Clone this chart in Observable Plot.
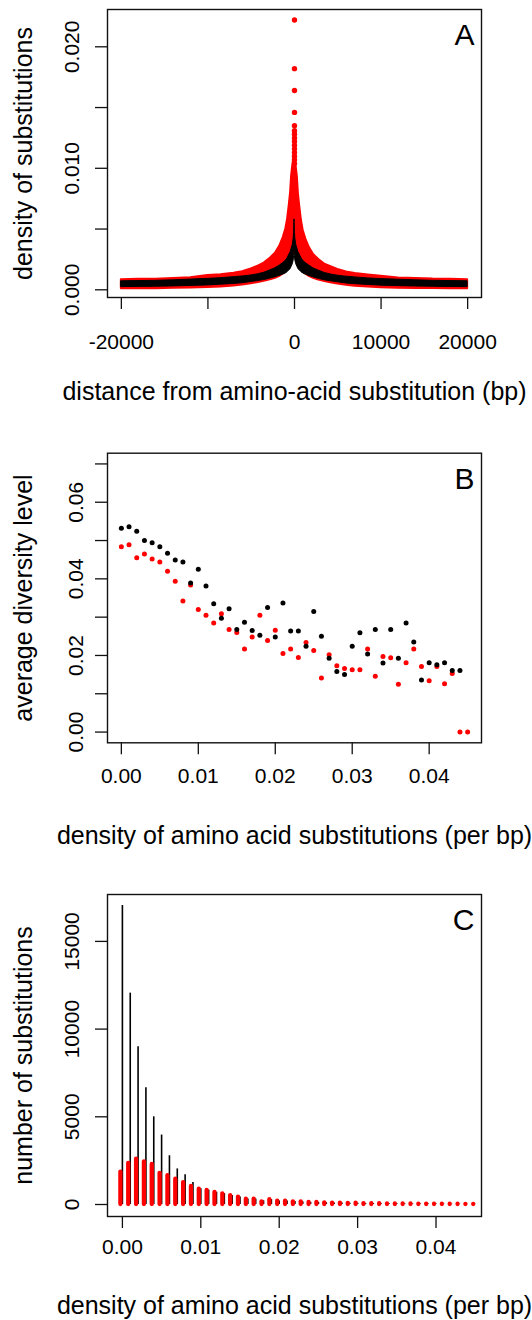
<!DOCTYPE html>
<html>
<head>
<meta charset="utf-8">
<script src="https://cdn.jsdelivr.net/npm/d3@7"></script>
<script src="https://cdn.jsdelivr.net/npm/@observablehq/plot@0.6"></script>
<style>
  html, body { margin: 0; padding: 0; background: #fff; }
  #chart { width: 532px; }
  #chart svg { display: block; }
</style>
</head>
<body>
<div id="chart"></div>
<script>
// ---------- Panel A: density of substitutions vs distance (bp) ----------
const distA = [-20000, -18000, -16000, -14000, -12000, -10000, -8500, -7000, -6000, -5000, -4200, -3500, -2800, -2200, -1700, -1300, -1000, -800, -600, -450, -330, -200, -100, -40, 0,
  40, 100, 200, 330, 450, 600, 800, 1000, 1300, 1700, 2200, 2800, 3500, 4200, 5000, 6000, 7000, 8500, 10000, 12000, 14000, 16000, 18000, 20000];
const redHiA = [0.00082, 0.00086, 0.00087, 0.00093, 0.00100, 0.00118, 0.00124, 0.00136, 0.00148, 0.00172, 0.00195, 0.0022, 0.0026, 0.0030, 0.0036, 0.0043, 0.0050, 0.0058, 0.0070, 0.0080, 0.0094, 0.0102, 0.0107, 0.0112, 0.0116,
  0.0112, 0.0106, 0.0101, 0.0093, 0.0079, 0.0069, 0.0057, 0.0049, 0.0042, 0.0035, 0.0029, 0.0025, 0.0021, 0.00190, 0.00168, 0.00146, 0.00134, 0.00122, 0.00112, 0.00098, 0.00094, 0.00088, 0.00086, 0.00083];
const redLoA = [0.00008, 0.00010, 0.00008, 0.00012, 0.00014, 0.00018, 0.00024, 0.00032, 0.00040, 0.00050, 0.00060, 0.00070, 0.00082, 0.00095, 0.0011, 0.0013, 0.0015, 0.0017, 0.0019, 0.0022, 0.0025, 0.0028, 0.0032, 0.0036, 0.0040,
  0.0036, 0.0032, 0.0028, 0.0025, 0.0022, 0.0019, 0.0017, 0.0015, 0.0013, 0.0011, 0.00094, 0.00080, 0.00068, 0.00058, 0.00048, 0.00038, 0.00030, 0.00022, 0.00016, 0.00013, 0.00011, 0.00010, 0.00009, 0.00008];
const blackHiA = [0.00070, 0.00072, 0.00074, 0.00078, 0.00084, 0.00090, 0.00096, 0.00104, 0.00110, 0.00118, 0.00128, 0.00140, 0.00160, 0.00178, 0.0020, 0.0022, 0.0024, 0.0026, 0.0029, 0.0031, 0.0034, 0.0037, 0.0042, 0.0047, 0.0058,
  0.0047, 0.0042, 0.0037, 0.0034, 0.0031, 0.0029, 0.0026, 0.0024, 0.0022, 0.0020, 0.00176, 0.00158, 0.00138, 0.00126, 0.00116, 0.00108, 0.00102, 0.00094, 0.00088, 0.00083, 0.00078, 0.00074, 0.00072, 0.00070];
const blackLoA = [0.00022, 0.00024, 0.00025, 0.00028, 0.00032, 0.00036, 0.00042, 0.00048, 0.00054, 0.00064, 0.00072, 0.00080, 0.00092, 0.00104, 0.00115, 0.00125, 0.00135, 0.00145, 0.0016, 0.0017, 0.0019, 0.0021, 0.0024, 0.0028, 0.0034,
  0.0028, 0.0024, 0.0021, 0.0019, 0.0017, 0.0016, 0.00145, 0.00135, 0.00125, 0.00114, 0.00102, 0.00090, 0.00078, 0.00070, 0.00062, 0.00052, 0.00046, 0.00040, 0.00034, 0.00030, 0.00027, 0.00025, 0.00023, 0.00022];
// isolated red points at the centre of the peak
const peakRedA = [0.0222, 0.0182, 0.0164, 0.0146, 0.0135, 0.0131, 0.0128, 0.0125, 0.0122, 0.0119, 0.0116, 0.0113, 0.0110, 0.0107, 0.0104];
const xTicksA = [-20000, -10000, 0, 10000, 20000];
const xLabelsA = [-20000, 0, 10000, 20000];
const yTicksA = [0, 0.005, 0.010, 0.015, 0.020];
const yLabelsA = [0, 0.010, 0.020];

// ---------- Panel B: average diversity level vs density ----------
const densB = [0.000, 0.001, 0.002, 0.003, 0.004, 0.005, 0.006, 0.007, 0.008, 0.009, 0.010, 0.011, 0.012, 0.013, 0.014, 0.015, 0.016, 0.017, 0.018, 0.019, 0.020, 0.021, 0.022, 0.023,
  0.024, 0.025, 0.026, 0.027, 0.028, 0.029, 0.030, 0.031, 0.032, 0.033, 0.034, 0.035, 0.036, 0.037, 0.038, 0.039, 0.040, 0.041, 0.042, 0.043, 0.044, 0.045];
const blackB = [0.0532, 0.0536, 0.0524, 0.0500, 0.0494, 0.0484, 0.0467, 0.0449, 0.0444, 0.0389, 0.0425, 0.0381, 0.0335, 0.0297, 0.0322, 0.0268, 0.0287, 0.0265, 0.0253, 0.0325, 0.0248, 0.0337, 0.0264,
  0.0264, 0.0224, 0.0315, 0.0250, 0.0193, 0.0158, 0.0150, 0.0224, 0.0259, 0.0204, 0.0268, 0.0180, 0.0268, 0.0193, 0.0285, 0.0235, 0.0136, 0.0181, 0.0176, 0.0181, 0.0161, 0.0161];
const redB = [0.0484, 0.0489, 0.0455, 0.0465, 0.0452, 0.0444, 0.0420, 0.0394, 0.0342, 0.0384, 0.0320, 0.0305, 0.0285, 0.0309, 0.0268, 0.0260, 0.0217, 0.0248, 0.0305, 0.0239, 0.0266, 0.0205, 0.0217,
  0.0195, 0.0234, 0.0213, 0.0141, 0.0202, 0.0173, 0.0166, 0.0163, 0.0163, 0.0217, 0.0146, 0.0197, 0.0194, 0.0125, 0.0181, 0.0217, 0.0171, 0.0134, 0.0171, 0.0126, 0.0153, 0.0000, 0.0000];
const xTicksB = [0, 0.01, 0.02, 0.03, 0.04];
const yTicksB = [0, 0.01, 0.02, 0.03, 0.04, 0.05, 0.06, 0.07];
const yLabelsB = [0, 0.02, 0.04, 0.06];

// ---------- Panel C: number of substitutions vs density ----------
const densC = densB;
const blackC = [17050, 12050, 9000, 6650, 5000, 3960, 2780, 2030, 1700, 1250, 900, 820, 700, 620, 510, 430, 320, 310, 210, 280, 200, 200, 170,
  150, 125, 120, 100, 85, 80, 70, 72, 58, 52, 48, 38, 36, 32, 30, 26, 25, 22, 20, 16, 15, 12, 10];
const redC = [1850, 2350, 2580, 2430, 2280, 1780, 1640, 1440, 1250, 1030, 870, 800, 685, 610, 500, 415, 300, 300, 155, 270, 190, 190, 155,
  150, 120, 115, 95, 80, 75, 65, 70, 55, 50, 45, 35, 35, 30, 30, 25, 25, 20, 20, 15, 15, 12, 10];
const xTicksC = [0, 0.01, 0.02, 0.03, 0.04];
const yTicksC = [0, 5000, 10000, 15000];

// ---------- shared styling ----------
const FONT = "'Liberation Sans', Arial, Helvetica, sans-serif";
const TICK_FS = 21, TITLE_FS = 25, LETTER_FS = 30;
const style = {fontFamily: FONT, color: "#000", background: "#fff", overflow: "visible"};

function frameAndAxes({xTicks, yTicks, xLabels, yLabels, xFmt, yFmt, xLabDy, yLabDx, xTitle, yTitle, xTitleDy, letter}) {
  return [
    Plot.axisX({ticks: xTicks, tickSize: 12, tickFormat: () => "", label: null, strokeWidth: 1.3, stroke: "#111"}),
    Plot.axisY({ticks: yTicks, tickSize: 12, tickFormat: () => "", label: null, strokeWidth: 1.3, stroke: "#111"}),
    Plot.text(xLabels, {x: d => d, frameAnchor: "bottom", dy: xLabDy, text: xFmt, fontSize: TICK_FS, lineAnchor: "middle", fill: "#000"}),
    Plot.text(yLabels, {y: d => d, frameAnchor: "left", dx: yLabDx, text: yFmt, fontSize: TICK_FS, rotate: -90, lineAnchor: "middle", textAnchor: "middle", fill: "#000"}),
    Plot.text([xTitle], {frameAnchor: "bottom", dy: xTitleDy, text: d => d, fontSize: TITLE_FS, lineAnchor: "middle", fill: "#000"}),
    Plot.text([yTitle], {frameAnchor: "left", dx: -84, text: d => d, fontSize: TITLE_FS, rotate: -90, lineAnchor: "middle", textAnchor: "middle", fill: "#000"}),
    Plot.text([letter], {frameAnchor: "top-right", dx: -7, dy: 26, text: d => d, fontSize: LETTER_FS, textAnchor: "end", lineAnchor: "middle", fill: "#000"}),
    Plot.frame({stroke: "#111", strokeWidth: 1.4})
  ];
}

// Panel A data table
const rowsA = distA.map((d, i) => ({d, rHi: redHiA[i], rLo: redLoA[i], bHi: blackHiA[i], bLo: blackLoA[i]}));
const plotA = Plot.plot({
  width: 532, height: 440,
  marginTop: 9, marginBottom: 143, marginLeft: 107, marginRight: 51,
  style,
  x: {domain: [-21600, 21600]},
  y: {domain: [-0.000634, 0.02307]},
  marks: [
    Plot.areaY(rowsA, {x: "d", y1: "rLo", y2: "rHi", fill: "#ff0000", stroke: "#ff0000", strokeWidth: 2, strokeLinejoin: "round", curve: "linear"}),
    Plot.dot(peakRedA, {x: () => 0, y: d => d, r: 2.7, fill: "#ff0000"}),
    Plot.areaY(rowsA, {x: "d", y1: "bLo", y2: "bHi", fill: "#000", stroke: "#000", strokeWidth: 1, strokeLinejoin: "round", curve: "linear"}),
    ...frameAndAxes({
      xTicks: xTicksA, yTicks: yTicksA, xLabels: xLabelsA, yLabels: yLabelsA,
      xFmt: d => String(d), yFmt: d => d3.format(".3f")(d),
      xLabDy: 45, yLabDx: -35,
      xTitle: "distance from amino-acid substitution (bp)", yTitle: "density of substitutions",
      xTitleDy: 94, letter: "A"
    })
  ]
});

// Panel B
const rowsBred = densB.map((x, i) => ({x, v: redB[i]}));
const rowsBblack = blackB.map((v, i) => ({x: densB[i], v}));
const plotB = Plot.plot({
  width: 532, height: 440,
  marginTop: 12.7, marginBottom: 137.7, marginLeft: 107, marginRight: 51,
  style,
  x: {domain: [-0.0018, 0.0468]},
  y: {domain: [-0.0028, 0.0728]},
  marks: [
    Plot.dot(rowsBred, {x: "x", y: "v", r: 2.5, fill: "#ff0000"}),
    Plot.dot(rowsBblack, {x: "x", y: "v", r: 2.5, fill: "#000"}),
    ...frameAndAxes({
      xTicks: xTicksB, yTicks: yTicksB, xLabels: xTicksB, yLabels: yLabelsB,
      xFmt: d => d3.format(".2f")(d), yFmt: d => d3.format(".2f")(d),
      xLabDy: 33, yLabDx: -31,
      xTitle: "density of amino acid substitutions (per bp)", yTitle: "average diversity level",
      xTitleDy: 93, letter: "B"
    })
  ]
});

// Panel C
const rowsC = densC.map((x, i) => ({x, black: blackC[i], red: redC[i]}));
const plotC = Plot.plot({
  width: 532, height: 440,
  marginTop: 14, marginBottom: 104, marginLeft: 107, marginRight: 51,
  style,
  x: {domain: [-0.0019, 0.0458]},
  y: {domain: [-684, 17674]},
  marks: [
    Plot.ruleX(rowsC, {x: "x", y1: 0, y2: "black", stroke: "#000", strokeWidth: 1.6}),
    Plot.ruleX(rowsC, {x: "x", y1: 0, y2: "red", stroke: "#ff0000", strokeWidth: 4.3, strokeLinecap: "round", dx: -2}),
    ...frameAndAxes({
      xTicks: xTicksC, yTicks: yTicksC, xLabels: xTicksC, yLabels: yTicksC,
      xFmt: d => d3.format(".2f")(d), yFmt: d => String(d),
      xLabDy: 31, yLabDx: -35,
      xTitle: "density of amino acid substitutions (per bp)", yTitle: "number of substitutions",
      xTitleDy: 89, letter: "C"
    })
  ]
});

const chart = document.getElementById("chart");
chart.append(plotA, plotB, plotC);
</script>
</body>
</html>
